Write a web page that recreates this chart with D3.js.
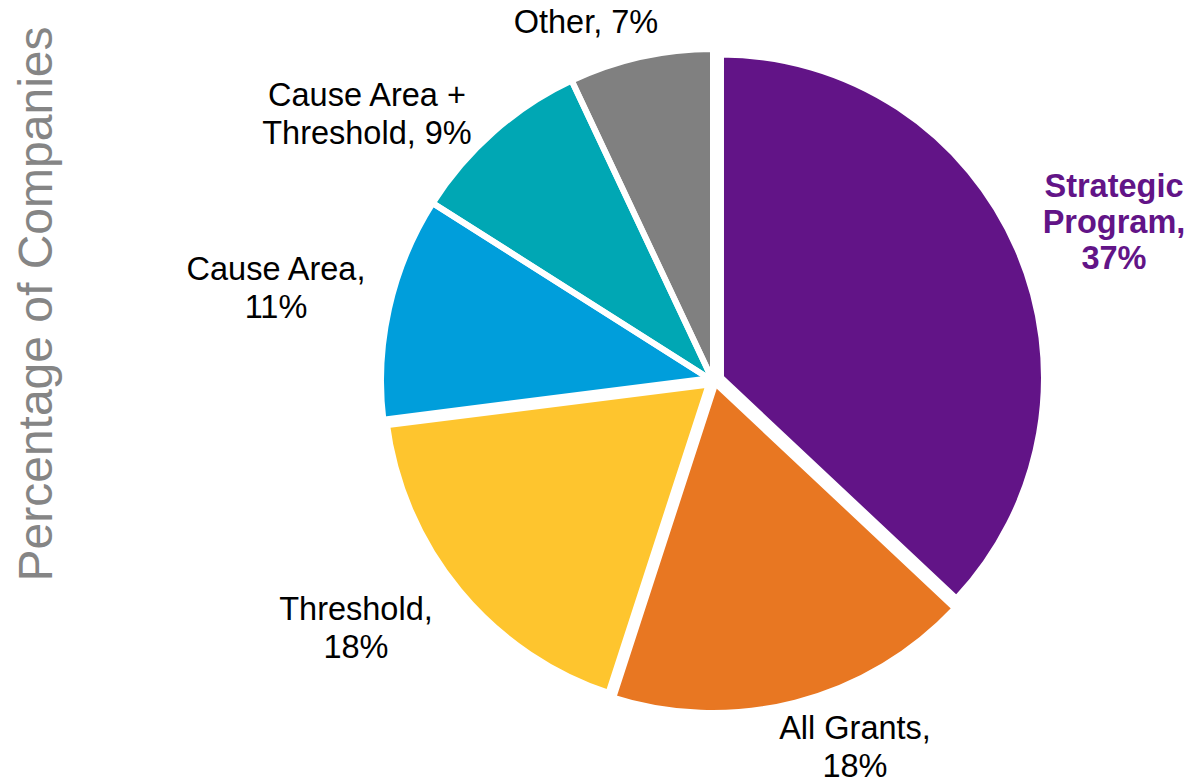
<!DOCTYPE html>
<html>
<head>
<meta charset="utf-8">
<script src="https://cdn.jsdelivr.net/npm/d3@7/dist/d3.min.js"></script>
<style>
  html, body { margin: 0; padding: 0; background: #ffffff; }
  svg { display: block; }
  text { font-family: "Liberation Sans", Arial, Helvetica, sans-serif; }
</style>
</head>
<body>
<svg id="chart" width="1189" height="780"></svg>
<script>
// Share of companies by giving approach (percent)
const categories = ["Strategic Program", "All Grants", "Threshold", "Cause Area", "Cause Area + Threshold", "Other"];
const shares = [37, 18, 18, 11, 9, 7];
// Label text per slice; the last line gets the value appended
const labelLines = [
  ["Strategic", "Program,", ""],
  ["All Grants,", ""],
  ["Threshold,", ""],
  ["Cause Area,", ""],
  ["Cause Area +", "Threshold, "],
  ["Other, "]
];
const sliceColors = ["#621487", "#e87722", "#fec52e", "#009edb", "#00a7b4", "#808080"];
const axisTitle = "Percentage of Companies";

// Layout
const cx = 713, cy = 381;
const outerR = 332;           // path radius for the joined slices
const explodedIndex = 0;      // Strategic Program is pulled out
const explodedR = 323;
const explodeDist = 8.7;
// white outline width per slice (separation between neighbours)
const outlineW = [6, 6, 12, 6, 6, 6];

// Label anchor (centre x, first baseline y) per slice
const labelPos = [
  { x: 1114, y: 197, lh: 36, bold: true },
  { x: 855,  y: 739, lh: 38 },
  { x: 356,  y: 620, lh: 38 },
  { x: 276,  y: 280, lh: 38 },
  { x: 367,  y: 106, lh: 38 },
  { x: 586,  y: 33,  lh: 38 }
];

const svg = d3.select("#chart");

const pie = d3.pie().sort(null).value(d => d.value).startAngle(0).endAngle(2 * Math.PI);
const data = categories.map((c, i) => ({ name: c, value: shares[i], color: sliceColors[i] }));
const arcs = pie(data);

const arcMain = d3.arc().innerRadius(0).outerRadius(outerR);
const arcOut = d3.arc().innerRadius(0).outerRadius(explodedR);

const slicePath = (d, i) => i === explodedIndex ? arcOut(d) : arcMain(d);
const sliceShift = (d, i) => {
  if (i !== explodedIndex) return null;
  const mid = (d.startAngle + d.endAngle) / 2;
  return `translate(${Math.sin(mid) * explodeDist},${-Math.cos(mid) * explodeDist})`;
};

const g = svg.append("g").attr("transform", `translate(${cx},${cy})`);

// fills
g.append("g").selectAll("path")
  .data(arcs)
  .join("path")
  .attr("d", slicePath)
  .attr("transform", sliceShift)
  .attr("fill", d => d.data.color);

// white outlines drawn over all fills
g.append("g").selectAll("path")
  .data(arcs)
  .join("path")
  .attr("d", slicePath)
  .attr("transform", sliceShift)
  .attr("fill", "none")
  .attr("stroke", "#ffffff")
  .attr("stroke-width", (d, i) => outlineW[i])
  .attr("stroke-linejoin", "miter");

// Slice labels
arcs.forEach((d, i) => {
  const p = labelPos[i];
  const lines = labelLines[i].slice();
  lines[lines.length - 1] = lines[lines.length - 1] + d.data.value + "%";
  const t = svg.append("text")
    .attr("x", p.x)
    .attr("y", p.y)
    .attr("text-anchor", "middle")
    .attr("font-size", 32.5)
    .attr("font-weight", p.bold ? "bold" : "normal")
    .attr("fill", p.bold ? d.data.color : "#000000");
  lines.forEach((ln, k) => {
    t.append("tspan").attr("x", p.x).attr("y", p.y + k * p.lh).text(ln);
  });
});

// Vertical axis title
svg.append("text")
  .attr("transform", `translate(52,304) rotate(-90)`)
  .attr("text-anchor", "middle")
  .attr("font-size", 48)
  .attr("fill", "#858585")
  .text(axisTitle);
</script>
</body>
</html>
